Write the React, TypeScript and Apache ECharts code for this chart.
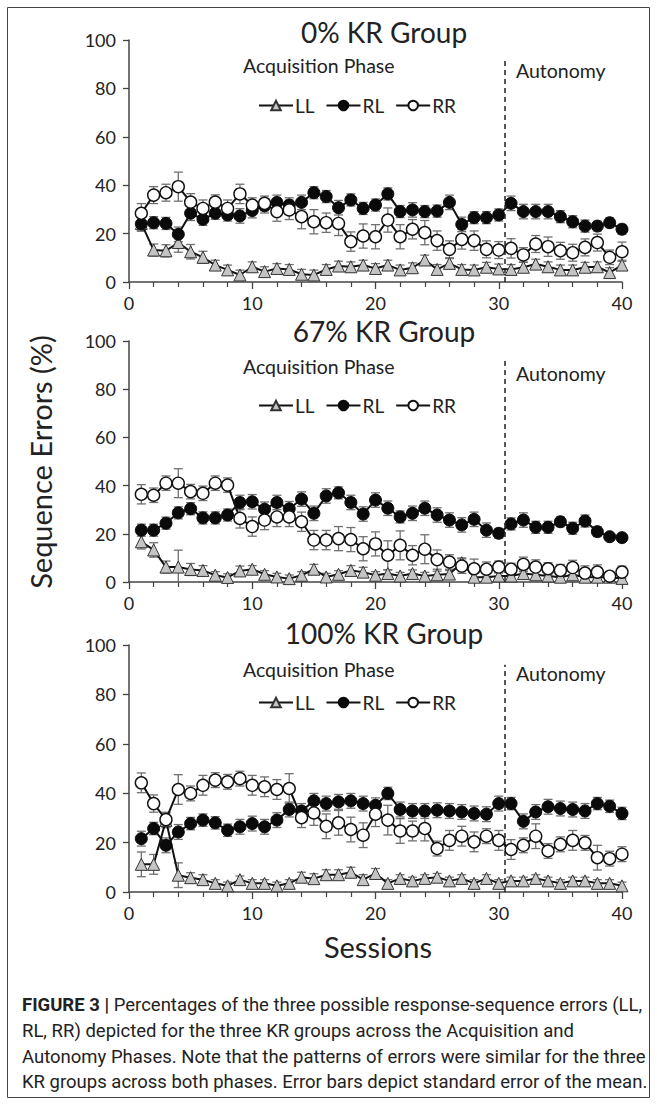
import React, { useEffect, useRef } from "react";
import * as echarts from "echarts";

// ---------- DATA ----------
const SESSIONS = [1, 2, 3, 4, 5, 6, 7, 8, 9, 10, 11, 12, 13, 14, 15, 16, 17, 18, 19, 20, 21, 22, 23, 24, 25, 26, 27, 28, 29, 30, 31, 32, 33, 34, 35, 36, 37, 38, 39, 40];
const X_TICKS = [0, 10, 20, 30, 40];
const Y_TICKS = [0, 20, 40, 60, 80, 100];
const SERIES_NAMES = ["LL", "RL", "RR"];
const GROUP_TITLES = ["0% KR Group", "67% KR Group", "100% KR Group"];
const PHASE_BOUNDARY = 30.5;
const PHASE_LINE_TOP = 92;

// 0% KR group
const ll0 = [24.2, 13.2, 12.9, 16.3, 12.5, 10.2, 7.0, 5.0, 2.9, 6.3, 4.3, 5.6, 5.2, 3.2, 2.9, 5.2, 6.6, 6.3, 7.0, 5.6, 7.0, 5.0, 5.9, 9.1, 5.2, 7.7, 5.2, 5.0, 6.1, 5.4, 5.2, 6.1, 7.4, 6.3, 5.0, 5.0, 6.1, 6.3, 3.9, 7.0];
const rl0 = [24.0, 24.5, 24.2, 19.7, 28.4, 25.9, 28.4, 27.7, 27.3, 29.5, 31.5, 32.9, 31.8, 32.9, 36.9, 35.3, 30.7, 33.9, 30.4, 31.8, 36.4, 29.1, 29.8, 29.1, 29.3, 32.9, 23.8, 26.6, 26.6, 27.7, 32.5, 29.1, 29.1, 29.1, 27.0, 24.9, 23.1, 23.1, 24.5, 21.8];
const rr0 = [28.4, 35.9, 36.9, 39.4, 33.0, 30.4, 33.0, 30.4, 36.4, 31.8, 32.5, 29.1, 29.8, 27.0, 24.9, 24.5, 24.2, 16.7, 19.0, 18.7, 25.6, 18.7, 21.8, 20.4, 17.1, 13.5, 17.6, 17.1, 13.5, 13.2, 13.9, 11.2, 15.7, 14.6, 12.9, 12.1, 14.3, 16.3, 10.2, 12.5];
const ll0Err = [3, 2.5, 2.5, 4, 3, 2.5, 2, 2, 2, 2, 2, 2, 2, 2, 2, 2, 2, 2, 2, 2, 2, 2, 2, 2, 2, 2, 2, 2, 2, 2, 2, 2, 2, 2, 2, 2, 2, 2, 2, 2];
const rl0Err = [3, 2.5, 2.5, 3, 3, 2.5, 2.5, 2.5, 3, 3, 3, 3, 3, 3, 2.5, 2.5, 3, 2.5, 2.5, 2.5, 2.5, 2.5, 3, 2.5, 2.5, 3, 3, 2.5, 2.5, 2.5, 3, 3, 3, 3, 2.5, 2.5, 2.5, 2, 2, 2];
const rr0Err = [4, 3.5, 3.5, 6, 3.5, 3.5, 3, 3.5, 4, 3, 3, 4, 4, 5, 5, 4, 5, 4, 5, 5, 5, 5, 4, 5, 4, 3.5, 4, 4, 3.5, 3.5, 4, 3, 3.5, 4, 3.5, 3.5, 3.5, 3.5, 3, 4];

// 67% KR group
const ll67 = [16.7, 13.3, 6.2, 6.2, 5.2, 4.8, 2.8, 1.9, 4.6, 5.3, 3.2, 2.1, 1.4, 2.8, 5.3, 2.1, 3.2, 4.8, 4.1, 2.8, 3.5, 2.5, 3.5, 2.5, 3.0, 3.3, 8.0, 2.0, 2.0, 2.5, 2.5, 3.5, 3.0, 2.5, 2.0, 3.0, 2.0, 2.0, 2.0, 1.5];
const rl67 = [21.5, 21.5, 24.4, 28.7, 30.4, 26.6, 26.6, 27.8, 33.0, 33.3, 30.2, 33.0, 30.4, 34.4, 28.5, 35.7, 37.0, 33.0, 28.2, 34.0, 30.6, 27.0, 28.5, 30.6, 27.8, 25.7, 23.7, 26.0, 21.5, 20.2, 24.1, 25.7, 22.7, 22.7, 25.0, 22.3, 25.3, 20.9, 18.8, 18.4];
const rr67 = [36.4, 36.0, 41.0, 41.0, 37.5, 36.8, 41.0, 40.2, 26.4, 23.0, 25.7, 27.0, 27.0, 25.0, 17.4, 17.4, 18.0, 17.6, 13.8, 15.8, 11.1, 15.2, 11.1, 13.6, 9.3, 8.3, 6.6, 5.5, 5.3, 6.2, 5.3, 7.3, 6.2, 5.5, 4.8, 6.0, 3.7, 4.1, 2.4, 4.1];
const ll67Err = [3, 3, 2.5, 7, 2.5, 2, 1.5, 1.5, 2, 1.5, 1.5, 1.5, 1.5, 1.5, 2, 1.5, 1.5, 2, 2, 1.5, 1.5, 1.5, 1.5, 1.5, 1.5, 1.5, 2, 1.5, 1.5, 1.5, 1.5, 1.5, 1.5, 1.5, 1.5, 1.5, 1.5, 1.5, 1.5, 1.5];
const rl67Err = [2.5, 2.5, 2.5, 2.5, 2.5, 2.5, 2.5, 2.5, 3, 3, 3, 3, 3, 3, 3, 3, 2.5, 3, 3, 3, 3, 2.5, 3, 3, 3, 3, 3, 3, 3, 2, 2.5, 3, 2.5, 2.5, 2, 2.5, 2.5, 2, 1.5, 1.5];
const rr67Err = [4, 3, 3, 6, 3, 3, 3, 3, 4, 4, 4, 4, 4, 4, 4, 4, 5, 5, 5, 5, 6, 6, 4, 6, 4, 3, 3, 4, 3, 2.5, 2.5, 3, 3, 2.5, 2.5, 3, 3, 3, 2, 2.5];

// 100% KR group
const ll100 = [11.2, 11.2, 29.0, 6.8, 5.8, 5.0, 3.5, 2.5, 5.0, 3.5, 3.5, 2.5, 3.5, 6.0, 5.4, 7.0, 7.0, 8.0, 5.0, 7.5, 3.5, 5.5, 4.5, 5.5, 6.0, 4.5, 5.5, 3.5, 5.5, 3.5, 4.5, 4.5, 5.5, 4.5, 3.5, 4.5, 4.5, 3.5, 3.5, 2.5];
const rl100 = [21.6, 25.7, 18.9, 24.3, 27.7, 29.1, 28.0, 25.0, 26.4, 27.7, 26.4, 29.1, 33.4, 32.8, 36.9, 35.8, 36.5, 36.9, 35.8, 35.1, 39.9, 33.4, 32.8, 32.8, 33.1, 32.8, 32.4, 31.8, 31.5, 35.8, 35.8, 28.6, 32.4, 34.5, 33.8, 33.4, 32.8, 35.8, 34.7, 31.8];
const rr100 = [44.2, 35.8, 29.3, 41.5, 39.9, 43.2, 45.3, 44.6, 45.9, 43.2, 42.6, 41.5, 41.9, 30.1, 32.0, 26.6, 28.0, 25.3, 23.0, 31.5, 29.1, 24.7, 24.7, 25.7, 17.6, 20.9, 22.6, 20.3, 22.6, 20.9, 17.2, 18.9, 22.6, 16.6, 19.3, 20.9, 19.9, 13.9, 13.5, 15.3];
const ll100Err = [5, 4, 3, 5, 2, 2, 1.5, 1.5, 1.5, 1.5, 1.5, 1.5, 1.5, 2, 2, 2, 2, 2, 2, 2, 1.5, 1.5, 1.5, 1.5, 1.5, 1.5, 1.5, 1.5, 1.5, 1.5, 1.5, 1.5, 1.5, 1.5, 1.5, 1.5, 1.5, 1.5, 1.5, 1.5];
const rl100Err = [3, 2.5, 3, 3, 2.5, 2.5, 2.5, 2.5, 3, 3, 3, 3, 3, 3, 3, 3, 3, 3, 3, 3, 2.5, 3, 3, 3, 3, 3, 3, 3, 3, 3, 2.5, 3, 3, 3, 3, 3, 3, 2.5, 2.5, 2.5];
const rr100Err = [4, 3.5, 3, 6, 3, 4, 3, 3, 3, 4, 4, 4, 6, 4, 5, 5, 5, 5, 5, 5, 6, 5, 4, 5, 3, 4, 4, 4, 3, 4, 4, 3, 5, 3, 3, 4, 3, 5, 3, 3];

const CAPTION_BOLD = "FIGURE 3 |";
const CAPTION_LINES = [
  " Percentages of the three possible response-sequence errors (LL,",
  "RL, RR) depicted for the three KR groups across the Acquisition and",
  "Autonomy Phases. Note that the patterns of errors were similar for the three",
  "KR groups across both phases. Error bars depict standard error of the mean.",
];

// ---------- LAYOUT ----------
const FONT = "Lato, 'Open Sans', sans-serif";
const CAP_FONT = "Roboto, 'Liberation Sans', sans-serif";
const GRID_LEFT = 129;
const GRID_WIDTH = 493;
const PANELS = [
  { top: 40, height: 242, titleY: 32, acqY: 65, autY: 70, legendY: 101 },
  { top: 341, height: 241, titleY: 331, acqY: 366, autY: 373, legendY: 401 },
  { top: 645, height: 247, titleY: 633, acqY: 669, autY: 673, legendY: 698 },
];

const GROUP_DATA = [
  { ll: ll0, rl: rl0, rr: rr0, llE: ll0Err, rlE: rl0Err, rrE: rr0Err },
  { ll: ll67, rl: rl67, rr: rr67, llE: ll67Err, rlE: rl67Err, rrE: rr67Err },
  { ll: ll100, rl: rl100, rr: rr100, llE: ll100Err, rlE: rl100Err, rrE: rr100Err },
];

const pts = (vals: number[]) => vals.map((v, i) => [SESSIONS[i], v]);
const errs = (vals: number[], e: number[]) =>
  vals.map((v, i) => [SESSIONS[i], Math.max(0, v - e[i]), v + e[i]]);

const renderErr = (params: any, api: any) => {
  const x = api.value(0);
  const lo = api.coord([x, api.value(1)]);
  const hi = api.coord([x, api.value(2)]);
  const w = 4.5;
  const style = { stroke: "#707070", lineWidth: 1.3, fill: null };
  return {
    type: "group",
    children: [
      { type: "line", shape: { x1: lo[0], y1: lo[1], x2: hi[0], y2: hi[1] }, style },
      { type: "line", shape: { x1: hi[0] - w, y1: hi[1], x2: hi[0] + w, y2: hi[1] }, style },
      { type: "line", shape: { x1: lo[0] - w, y1: lo[1], x2: lo[0] + w, y2: lo[1] }, style },
    ],
  };
};

const STYLES: Record<string, any> = {
  LL: { symbol: "triangle", symbolSize: 12, itemStyle: { color: "#c4c4c4", borderColor: "#333", borderWidth: 1 } },
  RL: { symbol: "circle", symbolSize: 12, itemStyle: { color: "#0a0a0a", borderColor: "#0a0a0a", borderWidth: 1 } },
  RR: { symbol: "circle", symbolSize: 12, itemStyle: { color: "#ffffff", borderColor: "#111", borderWidth: 1.4 } },
};

function buildOption() {
  const grids: any[] = [];
  const xAxes: any[] = [];
  const yAxes: any[] = [];
  const series: any[] = [];
  const legends: any[] = [];
  const graphics: any[] = [];

  PANELS.forEach((p, g) => {
    grids.push({ left: GRID_LEFT, top: p.top, width: GRID_WIDTH, height: p.height });
    xAxes.push({
      type: "value", gridIndex: g, min: X_TICKS[0], max: X_TICKS[X_TICKS.length - 1], interval: X_TICKS[1] - X_TICKS[0],
      axisLine: { show: true, lineStyle: { color: "#444", width: 1.5 } },
      axisTick: { show: true, length: 7, lineStyle: { color: "#444", width: 1.3 } },
      minorTick: { show: true, splitNumber: 5, length: 5, lineStyle: { color: "#444", width: 1.2 } },
      splitLine: { show: false },
      axisLabel: { fontFamily: FONT, fontSize: 18, color: "#222", margin: 12 },
    });
    yAxes.push({
      type: "value", gridIndex: g, min: Y_TICKS[0], max: Y_TICKS[Y_TICKS.length - 1], interval: Y_TICKS[1] - Y_TICKS[0],
      axisLine: { show: true, lineStyle: { color: "#444", width: 1.5 } },
      axisTick: { show: true, length: 6, lineStyle: { color: "#444", width: 1.3 } },
      splitLine: { show: false },
      axisLabel: { fontFamily: FONT, fontSize: 18, color: "#222", margin: 13 },
    });
    const d = GROUP_DATA[g];
    const vals: Record<string, number[]> = { LL: d.ll, RL: d.rl, RR: d.rr };
    const es: Record<string, number[]> = { LL: d.llE, RL: d.rlE, RR: d.rrE };
    SERIES_NAMES.forEach((name) => {
      series.push({
        type: "custom", name: name + " error", xAxisIndex: g, yAxisIndex: g, silent: true, z: 1,
        renderItem: renderErr, data: errs(vals[name], es[name]), encode: { x: 0, y: [1, 2] },
      });
    });
    SERIES_NAMES.forEach((name, k) => {
      const s: any = {
        type: "line", name, xAxisIndex: g, yAxisIndex: g, z: 3 + k,
        data: pts(vals[name]),
        lineStyle: { color: "#111", width: 2 },
        ...STYLES[name],
      };
      if (k === 0) {
        s.markLine = {
          silent: true, symbol: "none", label: { show: false },
          lineStyle: { type: [5, 4], color: "#222", width: 1.5 },
          data: [[{ coord: [PHASE_BOUNDARY, 0] }, { coord: [PHASE_BOUNDARY, PHASE_LINE_TOP] }]],
        };
      }
      series.push(s);
    });
    legends.push({
      data: SERIES_NAMES, left: 253, top: p.legendY - 10, itemWidth: 34, itemHeight: 12, itemGap: 11,
      selectedMode: false, textStyle: { fontFamily: FONT, fontSize: 19, color: "#222", padding: [0, 0, 0, -3] },
    });
    graphics.push(
      { type: "text", x: 384, y: p.titleY, style: { text: GROUP_TITLES[g], font: `28px ${FONT}`, fill: "#222", align: "center", verticalAlign: "middle" } },
      { type: "text", x: 243, y: p.acqY, style: { text: "Acquisition Phase", font: `19.5px ${FONT}`, fill: "#222", align: "left", verticalAlign: "middle" } },
      { type: "text", x: 516, y: p.autY, style: { text: "Autonomy", font: `19.5px ${FONT}`, fill: "#222", align: "left", verticalAlign: "middle" } }
    );
  });

  graphics.push(
    { type: "rect", shape: { x: 7.5, y: 7.5, width: 642, height: 1090 }, style: { fill: "none", stroke: "#444", lineWidth: 1 } },
    { type: "text", x: 40, y: 462, rotation: Math.PI / 2, style: { text: "Sequence Errors (%)", font: `29px ${FONT}`, fill: "#222", align: "center", verticalAlign: "middle" } },
    { type: "text", x: 378, y: 946, style: { text: "Sessions", font: `29px ${FONT}`, fill: "#222", align: "center", verticalAlign: "middle" } },
    {
      type: "text", x: 22, y: 1005,
      style: {
        text: `{b|${CAPTION_BOLD}}${CAPTION_LINES[0]}`, font: `18.5px ${CAP_FONT}`, fill: "#222", verticalAlign: "middle",
        rich: { b: { fontWeight: "bold", fontFamily: CAP_FONT, fontSize: 18.5, fill: "#222" } },
      },
    },
    ...CAPTION_LINES.slice(1).map((t, i) => ({
      type: "text", x: 22, y: 1031 + i * 25.5,
      style: { text: t, font: `18.5px ${CAP_FONT}`, fill: "#222", verticalAlign: "middle" },
    }))
  );

  return {
    animation: false,
    backgroundColor: "#ffffff",
    grid: grids,
    xAxis: xAxes,
    yAxis: yAxes,
    legend: legends,
    series,
    graphic: graphics,
  };
}

export default function App() {
  const ref = useRef<HTMLDivElement>(null);
  useEffect(() => {
    if (!ref.current) return;
    const chart = echarts.init(ref.current, undefined, { renderer: "svg" });
    chart.setOption(buildOption() as any);
    return () => chart.dispose();
  }, []);
  return <div ref={ref} style={{ position: "absolute", left: 0, top: 0, width: 657, height: 1107 }} />;
}
